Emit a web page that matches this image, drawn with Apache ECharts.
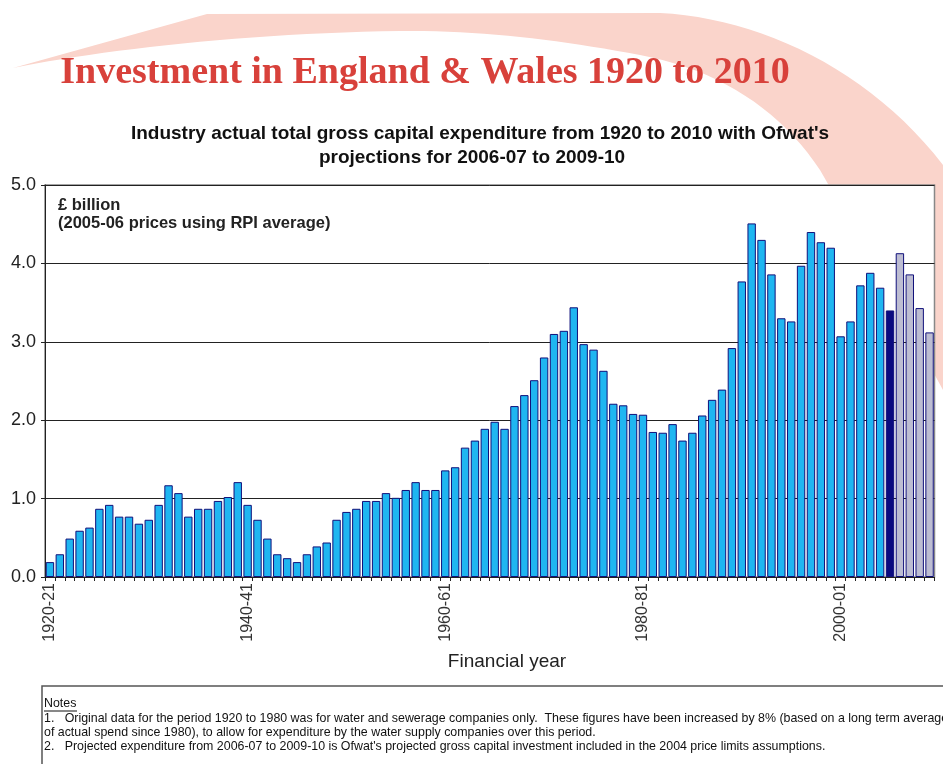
<!DOCTYPE html>
<html>
<head>
<meta charset="utf-8">
<script src="https://cdn.jsdelivr.net/npm/echarts@6/dist/echarts.min.js"></script>
<style>
  html, body { margin: 0; padding: 0; background: #ffffff; }
  #chart { width: 943px; height: 764px; }
</style>
</head>
<body>
<div id="chart"></div>
<script>
// Financial years run 1920-21 .. 2009-10
const firstYear = 1920;
const yearCount = 90;

// Gross capital expenditure, £ billion (2005-06 prices)
// Actual outturn 1920-21 .. 2004-05
const historic = [
  0.19, 0.29, 0.49, 0.59, 0.63, 0.87, 0.92, 0.77, 0.77, 0.68,
  0.73, 0.92, 1.17, 1.07, 0.77, 0.87, 0.87, 0.97, 1.02, 1.21,
  0.92, 0.73, 0.49, 0.29, 0.24, 0.19, 0.29, 0.39, 0.44, 0.73,
  0.83, 0.87, 0.97, 0.97, 1.07, 1.01, 1.11, 1.21, 1.11, 1.11,
  1.36, 1.40, 1.65, 1.74, 1.89, 1.98, 1.89, 2.18, 2.32, 2.51,
  2.80, 3.10, 3.14, 3.44, 2.97, 2.90, 2.63, 2.21, 2.19, 2.08,
  2.07, 1.85, 1.84, 1.95, 1.74, 1.84, 2.06, 2.26, 2.39, 2.92,
  3.77, 4.51, 4.30, 3.86, 3.30, 3.26, 3.97, 4.40, 4.27, 4.20,
  3.07, 3.26, 3.72, 3.88, 3.69
];
// Latest actual year, 2005-06
const latestActual = [3.40];
// Ofwat projections 2006-07 .. 2009-10
const projected = [4.13, 3.86, 3.43, 3.12];

// Value axis ticks and the financial years that carry a label
const yTicks = [0, 1, 2, 3, 4, 5];
const labelledYears = ['1920-21', '1940-41', '1960-61', '1980-81', '2000-01'];

const categories = [];
for (let i = 0; i < yearCount; i++) {
  const y = firstYear + i;
  categories.push(y + '-' + String((y + 1) % 100).padStart(2, '0'));
}

const COLOR_ACTUAL = '#1fb6f1';
const COLOR_LATEST = '#0a0a80';
const COLOR_PROJECTED = '#bdbdd2';

const barData = []
  .concat(historic.map(v => ({ value: v, itemStyle: { color: COLOR_ACTUAL } })))
  .concat(latestActual.map(v => ({ value: v, itemStyle: { color: COLOR_LATEST } })))
  .concat(projected.map(v => ({ value: v, itemStyle: { color: COLOR_PROJECTED } })));

// Outline of the decorative swoosh: straight runs and cubic curves, flattened to a polygon
function cubic(p0, p1, p2, p3, steps) {
  const pts = [];
  for (let s = 1; s <= steps; s++) {
    const t = s / steps, u = 1 - t;
    pts.push([
      u * u * u * p0[0] + 3 * u * u * t * p1[0] + 3 * u * t * t * p2[0] + t * t * t * p3[0],
      u * u * u * p0[1] + 3 * u * u * t * p1[1] + 3 * u * t * t * p2[1] + t * t * t * p3[1]
    ]);
  }
  return pts;
}
const swoosh = [[13, 68], [207, 14], [660, 13]]
  .concat(cubic([660, 13], [760, 18], [870, 70], [943, 165], 24))
  .concat([[1000, 250], [1000, 420], [943, 390]])
  .concat(cubic([943, 390], [905, 320], [860, 240], [820, 170], 20))
  .concat(cubic([820, 170], [780, 110], [720, 70], [640, 55], 20))
  .concat(cubic([640, 55], [560, 40], [480, 30], [400, 31], 20))
  .concat(cubic([400, 31], [250, 33], [100, 50], [13, 68], 24));

const chart = echarts.init(document.getElementById('chart'), null, { renderer: 'canvas' });

const sans = '"Liberation Sans", Arial, sans-serif';
const notesFont = '12.4px ' + sans;

chart.setOption({
  backgroundColor: '#ffffff',
  animation: false,
  graphic: [
    {
      type: 'polygon',
      z: -10,
      silent: true,
      shape: { points: swoosh },
      style: { fill: '#fad4cb' }
    },
    {
      type: 'text',
      x: 425, y: 73,
      style: {
        text: 'Investment in England & Wales 1920 to 2010',
        font: 'bold 38px "Liberation Serif", "Times New Roman", serif',
        fill: '#d8413b',
        align: 'center',
        verticalAlign: 'middle'
      }
    },
    {
      type: 'text',
      x: 480, y: 134,
      style: {
        text: "Industry actual total gross capital expenditure from 1920 to 2010 with Ofwat's",
        font: 'bold 19px ' + sans,
        fill: '#111',
        align: 'center',
        verticalAlign: 'middle'
      }
    },
    {
      type: 'text',
      x: 472, y: 158,
      style: {
        text: 'projections for 2006-07 to 2009-10',
        font: 'bold 19px ' + sans,
        fill: '#111',
        align: 'center',
        verticalAlign: 'middle'
      }
    },
    {
      type: 'text',
      x: 58, y: 205,
      z: 10,
      style: {
        text: '£ billion',
        font: 'bold 16.5px ' + sans,
        fill: '#222',
        verticalAlign: 'middle'
      }
    },
    {
      type: 'text',
      x: 58, y: 223,
      z: 10,
      style: {
        text: '(2005-06 prices using RPI average)',
        font: 'bold 16.5px ' + sans,
        fill: '#222',
        verticalAlign: 'middle'
      }
    },
    {
      type: 'text',
      x: 507, y: 662,
      style: {
        text: 'Financial year',
        font: '19px ' + sans,
        fill: '#222',
        align: 'center',
        verticalAlign: 'middle'
      }
    },
    // notes panel
    {
      type: 'rect',
      shape: { x: 42, y: 686, width: 920, height: 100 },
      style: { fill: '#ffffff', stroke: '#555', lineWidth: 1.5 }
    },
    {
      type: 'text',
      x: 44, y: 704,
      style: { text: 'Notes', font: notesFont, fill: '#111', verticalAlign: 'middle' }
    },
    {
      type: 'line',
      shape: { x1: 44, y1: 711, x2: 77, y2: 711 },
      style: { stroke: '#111', lineWidth: 1 }
    },
    {
      type: 'text',
      x: 44, y: 719,
      style: {
        text: '1.   Original data for the period 1920 to 1980 was for water and sewerage companies only.  These figures have been increased by 8% (based on a long term average',
        font: notesFont, fill: '#111', verticalAlign: 'middle'
      }
    },
    {
      type: 'text',
      x: 44, y: 733,
      style: {
        text: 'of actual spend since 1980), to allow for expenditure by the water supply companies over this period.',
        font: notesFont, fill: '#111', verticalAlign: 'middle'
      }
    },
    {
      type: 'text',
      x: 44, y: 747,
      style: {
        text: "2.   Projected expenditure from 2006-07 to 2009-10 is Ofwat's projected gross capital investment included in the 2004 price limits assumptions.",
        font: notesFont, fill: '#111', verticalAlign: 'middle'
      }
    }
  ],
  grid: {
    left: 45,
    right: 8.5,
    top: 185,
    bottom: 187,
    show: true,
    backgroundColor: '#ffffff',
    borderColor: '#888',
    borderWidth: 1.5
  },
  xAxis: {
    type: 'category',
    data: categories,
    boundaryGap: true,
    axisLine: { show: true, lineStyle: { color: '#222', width: 1 } },
    axisTick: { show: true, interval: 0, length: 4, lineStyle: { color: '#222' } },
    axisLabel: {
      interval: 0,
      rotate: 90,
      margin: 6,
      fontSize: 16,
      fontFamily: sans,
      color: '#333',
      formatter: v => (labelledYears.indexOf(v) >= 0 ? v : '')
    },
    splitLine: { show: false }
  },
  yAxis: {
    type: 'value',
    min: yTicks[0],
    max: yTicks[yTicks.length - 1],
    interval: 1,
    axisLine: { show: true, lineStyle: { color: '#222', width: 1 } },
    axisTick: { show: true, length: 4, lineStyle: { color: '#222' } },
    axisLabel: {
      margin: 9,
      fontSize: 18,
      fontFamily: sans,
      color: '#222',
      formatter: v => v.toFixed(1)
    },
    splitLine: { show: true, lineStyle: { color: '#222', width: 1 } }
  },
  series: [
    {
      type: 'bar',
      data: barData,
      barCategoryGap: '15%',
      itemStyle: { borderColor: '#10107a', borderWidth: 1 }
    }
  ]
});
</script>
</body>
</html>
